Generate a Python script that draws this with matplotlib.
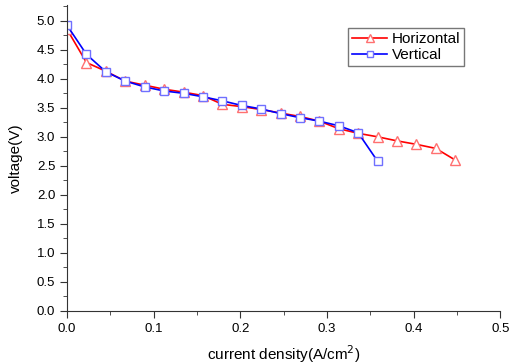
import numpy as np
import matplotlib.pyplot as plt
from matplotlib.ticker import MultipleLocator

plt.rcParams['font.family'] = ['Liberation Sans', 'DejaVu Sans']

# ── DATA ───────────────────────────────────────────────────
step = 0.0224
x_h = np.arange(21) * step
v_h = [4.85, 4.28, 4.13, 3.96, 3.89, 3.82, 3.77, 3.71, 3.56, 3.52, 3.47,
       3.41, 3.35, 3.27, 3.14, 3.06, 3.00, 2.93, 2.87, 2.80, 2.60]
x_v = np.arange(17) * step
v_v = [4.92, 4.42, 4.12, 3.96, 3.86, 3.79, 3.75, 3.69, 3.62, 3.54, 3.48,
       3.40, 3.33, 3.27, 3.19, 3.07, 2.58]

fig = plt.figure(figsize=(5.12, 3.64), dpi=100)
ax = fig.add_axes([0.131, 0.146, 0.846, 0.84])

ax.plot(x_h, v_h, color='#ff0000', lw=1.2, marker='^', ms=7,
        mfc='white', mec='#ff7070', mew=1.0, label='Horizontal')
ax.plot(x_v, v_v, color='#0000ff', lw=1.2, marker='s', ms=6,
        mfc='white', mec='#7070ff', mew=1.0, label='Vertical')

ax.set_xlim(0, 0.5)
ax.set_ylim(0, 5.27)
ax.xaxis.set_major_locator(MultipleLocator(0.1))
ax.xaxis.set_minor_locator(MultipleLocator(0.05))
ax.yaxis.set_major_locator(MultipleLocator(0.5))
ax.yaxis.set_minor_locator(MultipleLocator(0.25))
ax.spines['top'].set_visible(False)
ax.spines['right'].set_visible(False)
ax.spines['left'].set_color('#333333')
ax.spines['bottom'].set_color('#333333')
ax.tick_params(which='major', direction='out', length=5, labelsize=9.5, color='#333333')
ax.tick_params(which='minor', direction='out', length=3, color='#333333')
ax.xaxis.set_major_formatter(plt.FormatStrFormatter('%.1f'))
ax.yaxis.set_major_formatter(plt.FormatStrFormatter('%.1f'))

ax.set_xlabel('current density(A/cm$^2$)', fontsize=11, labelpad=6)
ax.set_ylabel('voltage(V)', fontsize=11, labelpad=10)

leg = ax.legend(loc='upper left', bbox_to_anchor=(0.649, 0.925), fontsize=11,
                fancybox=False, edgecolor='#555555', handlelength=2.3,
                markerscale=0.8, borderpad=0.25, labelspacing=0.15,
                handletextpad=0.3, borderaxespad=0)
leg.get_frame().set_linewidth(1.0)

fig.savefig('out.png', dpi=100)
